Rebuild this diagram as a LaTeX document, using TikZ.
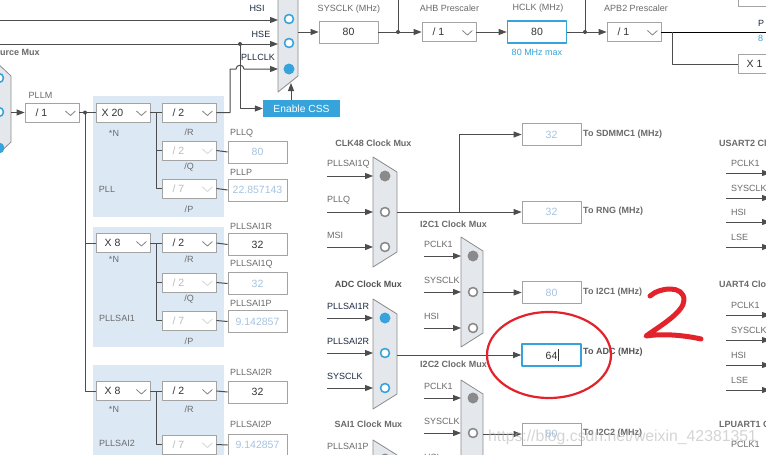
\documentclass[tikz,border=0pt]{standalone}
\usepackage{fontspec}
\setmainfont{Liberation Sans}
\usetikzlibrary{arrows.meta,positioning}
\definecolor{wirec}{HTML}{4D4D4D}
\definecolor{boxline}{HTML}{A3A3A3}
\definecolor{labgray}{HTML}{6A6A6A}
\definecolor{labnavy}{HTML}{1C2940}
\definecolor{valblue}{HTML}{A6C3E0}
\definecolor{cubeblue}{HTML}{36A3DB}
\definecolor{pllbg}{HTML}{DCE9F5}
\definecolor{muxfill}{HTML}{E4E8ED}
\definecolor{muxline}{HTML}{8C8C8C}
\definecolor{selgray}{HTML}{8A8A8A}
\definecolor{distext}{HTML}{BBBBBB}
\definecolor{txt}{HTML}{333333}
\definecolor{redpen}{HTML}{E3232B}
\begin{document}
\begin{tikzpicture}[x=1pt,y=-1pt,>={Triangle[length=8pt,width=6pt]},
  font=\fontsize{9}{11}\selectfont, line join=round,
  wire/.style={draw=wirec,line width=1pt},
  lab/.style={text=labgray,inner sep=0pt},
  labn/.style={text=labnavy,inner sep=0pt},
  title/.style={text=labgray,font=\fontsize{9}{11}\selectfont\bfseries,inner sep=0pt},
  valbox/.style={draw=boxline,fill=white,line width=0.8pt,minimum width=59pt,minimum height=22pt,inner sep=0pt,font=\fontsize{10.5}{12}\selectfont,text=txt},
  disval/.style={valbox,text=valblue},
  ddbox/.style={draw=boxline,fill=white,line width=0.8pt,minimum width=54pt,minimum height=19pt,inner sep=0pt,font=\fontsize{10.5}{12}\selectfont},
  chev/.style={line width=0.8pt},
  mux/.style={fill=muxfill,draw=muxline,line width=0.8pt},
  selon/.style={circle,fill=cubeblue,minimum size=11pt,inner sep=0pt},
  seloff/.style={circle,draw=cubeblue,fill=white,line width=1.6pt,minimum size=9pt,inner sep=0pt},
  gon/.style={selon,fill=selgray},
  goff/.style={seloff,draw=selgray},
  pllarea/.style={fill=pllbg}]
  \def\ddbox#1#2#3#4#5{% name, x, y, text, colour
    \node[ddbox] (#1) at (#2,#3) {\makebox[33pt]{\color{#5}#4}\hspace*{21pt}};
    \draw[chev,draw=#5!60!white] ([shift={(-14pt,1.5pt)}]#1.east) -- ++(5pt,-4.5pt) -- ++(5pt,4.5pt);}
  \useasboundingbox (0,0) rectangle (766,455);
  \fill[white] (0,0) rectangle (766,455);
  \clip (0,0) rectangle (766,455);
  % PLL areas
  \fill[pllarea] (93,96) rectangle (224,217);
  \fill[pllarea] (93,227) rectangle (224,347);
  \fill[pllarea] (93,365) rectangle (224,470);
  % source mux
  \filldraw[mux] (-6,60) -- (11,76) -- (11,142) -- (-6,158) -- cycle;
  \node[seloff] (srcA) at (-1,78) {};
  \node[seloff] (srcB) at (-1,112) {};
  \node[selon] (srcC) at (-1,148) {};
  \node[title,anchor=west] at (0,52) {urce Mux};
  % PLLM
  \ddbox{pllm}{52}{112.5}{/ 1}{txt}
  \node[lab] at (40.5,95) {PLLM};
  \coordinate (srcR) at (11,112.5);
  \coordinate (mdot) at (85,112.5);
  \draw[wire,->] (srcR) -- (pllm.west);
  % PLL
  \ddbox{plln}{123}{112.5}{X 20}{txt}
  \ddbox{pllr}{189}{112.5}{/ 2}{txt}
  \ddbox{pllq}{189}{150.5}{/ 2}{distext}
  \ddbox{pllp}{189}{188.5}{/ 7}{distext}
  \node[disval] (pllqv) at (257.5,152) {80};
  \node[disval] (pllpv) at (257.5,190) {22.857143};
  \node[lab] at (114,133) {*N};
  \node[lab] at (189,132) {/R};
  \node[lab] at (189,167) {/Q};
  \node[lab] at (189,209) {/P};
  \node[lab] at (107,189) {PLL};
  \node[lab,anchor=west] at (230,133) {PLLQ};
  \node[lab,anchor=west] at (230,172) {PLLP};
  \coordinate (pllsp) at (156,112.5);
  \draw[wire] (pllm.east) -- (plln.west);
  \fill[wirec] (mdot) circle (2pt);
  \draw[wire] (plln.east) -- (pllr.west);
  \draw[wire] (pllsp) |- (pllq.west);
  \draw[wire] (pllsp) |- (pllp.west);
  \draw[wire] (pllq.east) -- (pllqv.west);
  \draw[wire] (pllp.east) -- (pllpv.west);
  % PLLSAI1
  \ddbox{sainA}{123}{243}{X 8}{txt}
  \ddbox{sairA}{189}{243}{/ 2}{txt}
  \ddbox{saiqA}{189}{282.5}{/ 2}{distext}
  \ddbox{saipA}{189}{320.5}{/ 7}{distext}
  \node[valbox] (sairAv) at (257.5,244.5) {32};
  \node[disval] (saiqAv) at (257.5,283.5) {32};
  \node[disval] (saipAv) at (257.5,321.5) {9.142857};
  \node[lab,anchor=west] at (230,226) {PLLSAI1R};
  \node[lab,anchor=west] at (230,264) {PLLSAI1Q};
  \node[lab,anchor=west] at (230,303) {PLLSAI1P};
  \node[lab] at (114,259) {*N};
  \node[lab] at (189,259) {/R};
  \node[lab] at (189,299) {/Q};
  \node[lab] at (189,341) {/P};
  \node[lab] at (117,318) {PLLSAI1};
  \coordinate (saispA) at (156,243);
  \draw[wire] (mdot) |- (sainA.west);
  \draw[wire] (sainA.east) -- (sairA.west);
  \draw[wire] (saispA) |- (saiqA.west);
  \draw[wire] (saispA) |- (saipA.west);
  \draw[wire] (sairA.east) -- (sairAv.west);
  \draw[wire] (saiqA.east) -- (saiqAv.west);
  \draw[wire] (saipA.east) -- (saipAv.west);
  % PLLSAI2
  \ddbox{sainB}{123}{391}{X 8}{txt}
  \ddbox{sairB}{189}{391}{/ 2}{txt}
  \ddbox{saipB}{189}{444.5}{/ 7}{distext}
  \node[valbox] (sairBv) at (257.5,392) {32};
  \node[disval] (saipBv) at (257.5,445) {9.142857};
  \node[lab,anchor=west] at (230,372) {PLLSAI2R};
  \node[lab,anchor=west] at (230,424) {PLLSAI2P};
  \node[lab] at (114,409) {*N};
  \node[lab] at (189,409) {/R};
  \node[lab] at (117,443) {PLLSAI2};
  \coordinate (saispB) at (156,391);
  \draw[wire] (mdot) |- (sainB.west);
  \draw[wire] (sainB.east) -- (sairB.west);
  \draw[wire] (saispB) |- (saipB.west);
  \draw[wire] (sairB.east) -- (sairBv.west);
  \draw[wire] (saipB.east) -- (saipBv.west);
  % system clock mux
  \coordinate (sysL) at (278,0);
  \filldraw[mux] (278,-10) -- (298,-10) -- (298,76) -- (278,92) -- cycle;
  \node[seloff] (sysA) at (289,19) {};
  \node[seloff] (sysB) at (289,43) {};
  \node[selon] (sysC) at (289,69) {};
  \coordinate (hsiin) at (0,20);
  \coordinate (hsein) at (0,44);
  \coordinate (hsedot) at (240,44);
  \draw[wire,->] (hsiin) -- (hsiin -| sysL);
  \draw[wire,->] (hsein) -- (hsein -| sysL);
  \node[labn] at (257,8) {HSI};
  \node[labn] at (261,34) {HSE};
  \node[labn] at (258,57) {PLLCLK};
  \node[fill=cubeblue,text=white,minimum width=77pt,minimum height=17pt,inner sep=0pt,
    font=\fontsize{10.3}{12}\selectfont] (css) at (301.5,108.5) {Enable CSS};
  \fill[wirec] (hsedot) circle (2pt);
  \draw[wire,->] (hsedot) |- (css.west);
  \coordinate (pllclk) at (230,69);
  \draw[wire,->] (pllr.east) -| (pllclk) -- (236,69) .. controls (236,64) and (244,64) .. (244,69) -- (sysL |- pllclk);
  \coordinate (sysbot) at (291,83);
  \draw[wire,->] (css.north -| sysbot) -- (sysbot);
  % SYSCLK, AHB, HCLK, APB2
  \coordinate (sysR) at (298,32);
  \node[valbox] (sysclk) at (348.5,32) {80};
  \draw[wire,->] (sysR) -- (sysclk.west);
  \node[lab] at (349,9) {SYSCLK (MHz)};
  \coordinate (ahbdot) at (398,32);
  \coordinate (ahbup) at (398,-5);
  \ddbox{ahb}{449}{32}{/ 1}{txt}
  \draw[wire] (sysclk.east) -- (ahbdot) -- (ahbup);
  \fill[wirec] (ahbdot) circle (2pt);
  \draw[wire,->] (ahbdot) -- (ahb.west);
  \node[lab] at (449.5,8) {AHB Prescaler};
  \node[valbox,draw=cubeblue,line width=1.6pt] (hclk) at (537,32) {80};
  \draw[wire,->] (ahb.east) -- (hclk.west);
  \node[lab] at (538,8) {HCLK (MHz)};
  \node[text=cubeblue,inner sep=0pt] at (537,52) {80 MHz max};
  \coordinate (apbdot) at (585,32);
  \coordinate (apbup) at (585,-5);
  \ddbox{apb}{634}{32}{/ 1}{txt}
  \draw[wire] (hclk.east) -- (apbdot) -- (apbup);
  \fill[wirec] (apbdot) circle (2pt);
  \draw[wire,->] (apbdot) -- (apb.west);
  \node[lab] at (636,8) {APB2 Prescaler};
  \coordinate (pclkout) at (770,32);
  \coordinate (apbsp) at (672,32);
  \ddbox{xone}{765}{64}{X 1}{txt}
  \ddbox{xtwo}{765}{-3}{X 1}{txt}
  \draw[draw=black,line width=1pt] (apb.east) -- (pclkout);
  \draw[wire] (apbsp) |- (xone.west);
  \node[labn,anchor=west] at (758,23) {P};
  \node[text=cubeblue,anchor=west,inner sep=0pt] at (758,38) {8};
  % CLK48 mux
  \filldraw[mux] (373,157) -- (397,172) -- (397,252) -- (373,267) -- cycle;
  \node[gon] (ckA) at (385,176) {};
  \node[goff] (ckB) at (385,212) {};
  \node[goff] (ckC) at (385,247) {};
  \coordinate (ckL) at (373,0);
  \coordinate (ckR) at (397,212);
  \foreach \y/\t [count=\i] in {176/PLLSAI1Q,212/PLLQ,247/MSI}{
    \coordinate (ckin\i) at (327,\y);
    \node[lab,anchor=west] at (327,\y-12) {\t};
    \draw[wire,->] (ckin\i) -- (ckin\i -| ckL);
  }
  \node[title] at (373.5,143) {CLK48 Clock Mux};
  \node[disval] (sdmmc) at (551.5,134.5) {32};
  \node[disval] (rng) at (551.5,212) {32};
  \coordinate (cksp) at (459,212);
  \draw[wire,->] (ckR) -- (rng.west);
  \draw[wire,->] (cksp) |- (sdmmc.west);
  \node[title,anchor=west] at (583,134) {To SDMMC1 (MHz)};
  \node[title,anchor=west] at (583,211) {To RNG (MHz)};
  % I2C1 mux
  \filldraw[mux] (461,237) -- (483,251) -- (483,333) -- (461,347) -- cycle;
  \node[gon] (icA1) at (473,256) {};
  \node[goff] (icA2) at (473,292) {};
  \node[goff] (icA3) at (473,328) {};
  \coordinate (icAL) at (461,0);
  \coordinate (icAR) at (483,292.5);
  \foreach \y/\t [count=\i] in {256/PCLK1,292/SYSCLK,328/HSI}{
    \coordinate (icain\i) at (424,\y);
    \node[lab,anchor=west] at (424,\y-12) {\t};
    \draw[wire,->] (icain\i) -- (icain\i -| icAL);
  }
  \node[title] at (453.5,224) {I2C1 Clock Mux};
  \node[disval] (ictwo) at (551.5,292.5) {80};
  \draw[wire,->] (icAR) -- (ictwo.west);
  \node[title,anchor=west] at (583,292) {To I2C1 (MHz)};
  % ADC mux
  \filldraw[mux] (373,299) -- (397,314) -- (397,394) -- (373,409) -- cycle;
  \node[selon] (adcA) at (385,318) {};
  \node[seloff] (adcB) at (385,353) {};
  \node[seloff] (adcC) at (385,388) {};
  \coordinate (adcL) at (373,0);
  \coordinate (adcR) at (397,355);
  \foreach \y/\t [count=\i] in {318/PLLSAI1R,353/PLLSAI2R,388/SYSCLK}{
    \coordinate (adcin\i) at (327,\y);
    \node[labn,anchor=west] at (327,\y-12) {\t};
    \draw[wire,->] (adcin\i) -- (adcin\i -| adcL);
  }
  \node[title,text=txt!85!white] at (368.5,284) {ADC Clock Mux};
  \node[valbox,draw=cubeblue,line width=1.6pt] (adc) at (551.5,355) {64\rlap{\hspace{1pt}\rule[-2pt]{0.7pt}{12pt}}};
  \draw[wire,->] (adcR) -- (adc.west);
  \node[title,text=txt!85!white,anchor=west] at (583,352) {To ADC (MHz)};
  % I2C2 mux
  \filldraw[mux] (461,380) -- (483,394) -- (483,476) -- (461,490) -- cycle;
  \node[gon] (icB1) at (473,398) {};
  \node[goff] (icB2) at (473,433) {};
  \node[goff] (icB3) at (473,469) {};
  \coordinate (icBL) at (461,0);
  \coordinate (icBR) at (483,434);
  \foreach \y/\t [count=\i] in {398/PCLK1,433/SYSCLK,469/HSI}{
    \coordinate (icbin\i) at (424,\y);
    \node[lab,anchor=west] at (424,\y-12) {\t};
    \draw[wire,->] (icbin\i) -- (icbin\i -| icBL);
  }
  \node[title] at (453.5,364) {I2C2 Clock Mux};
  \node[disval] (icthree) at (551.5,434) {80};
  \draw[wire,->] (icBR) -- (icthree.west);
  \node[title,anchor=west] at (583,433) {To I2C2 (MHz)};
  % SAI1 mux
  \filldraw[mux] (373,440) -- (397,455) -- (397,535) -- (373,550) -- cycle;
  \node[gon] (saA) at (385,459) {};
  \node[title] at (368.5,424) {SAI1 Clock Mux};
  \node[lab,anchor=west] at (327,446) {PLLSAI1P};
  % right column
  \foreach \yy/\nm in {143/USART2 Cl,284/UART4 Clo,424/LPUART1 C}
    \node[title,anchor=west] at (719,\yy) {\nm};
  \foreach \y/\t [count=\i] in {173/PCLK1,198/SYSCLK,222/HSI,247/LSE,315/PCLK1,340/SYSCLK,365/HSI,390/LSE}{
    \coordinate (uin\i) at (726,\y);
    \coordinate (uend\i) at (770,\y);
    \node[lab,anchor=west] at (731,\y-10) {\t};
    \draw[wire,->] (uin\i) -- (uend\i);
  }
  \node[lab,anchor=west] at (731,444) {PCLK1};
  % watermark
  \node[anchor=west,text=gray!60,opacity=0.55,inner sep=0pt,font=\fontsize{15.8}{18}\selectfont] at (488,437) {https://blog.csdn.net/weixin\_42381351};
  % red marks
  \draw[redpen,line width=2.2pt] (549,355) ellipse [x radius=62, y radius=43];
  \draw[redpen,line width=5pt,line cap=round] (650,296) .. controls (660,287) and (684,285) .. (684,300)
    .. controls (684,312) and (660,326) .. (646,336) .. controls (665,333) and (688,336) .. (701,339);
\end{tikzpicture}
\end{document}
